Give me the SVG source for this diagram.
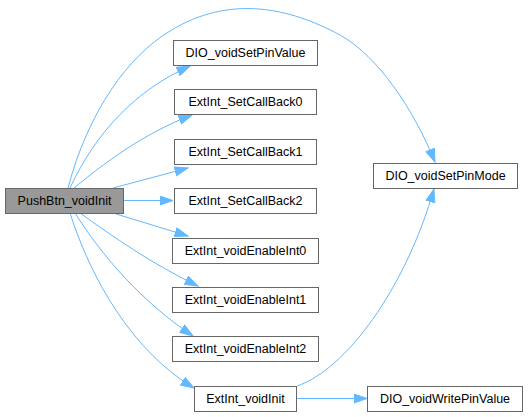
<svg xmlns="http://www.w3.org/2000/svg" width="528" height="417" viewBox="0 0 528 417">
<style>
.n rect{fill:#ffffff;stroke:#666666;stroke-width:1}
.n text{font-family:"Liberation Sans",Arial,sans-serif;font-size:12.5px;fill:#000000;text-anchor:middle}
#n0 rect{fill:#999999}
.e path{fill:none;stroke:#63b8ff;stroke-width:1;marker-end:url(#ah)}
</style>
<defs>
<marker id="ah" markerUnits="userSpaceOnUse" markerWidth="15" markerHeight="12" refX="13.5" refY="5" orient="auto">
<path d="M0.5,0.5 L13.5,5 L0.5,9.5 z" fill="#63b8ff" stroke="#63b8ff" stroke-width="1"/>
</marker>
</defs>
<rect width="528" height="417" fill="#ffffff"/>
<g id="edges" class="e">
<path d="M68,188 C88,112 128,56 170,31 C230,-6 290,8 340,35 C378,56 414,110 435,162"/>
<path d="M70,188 C96,132 136,90 190,66"/>
<path d="M74,188 C102,165 142,134 192,115"/>
<path d="M113,188 L188,168"/>
<path d="M124,200.5 L173,200.5"/>
<path d="M113,213 L188,236"/>
<path d="M80,213 C112,236 152,264 198,286"/>
<path d="M75,213 C102,256 142,302 193,336"/>
<path d="M70,213 C92,282 134,352 194,388"/>
<path d="M297,386 C345,370 405,290 434,189"/>
<path d="M297,398.5 L367,398.5"/>
</g>
<g id="n0" class="n"><rect x="5.5" y="188.5" width="118" height="25"/><text x="64.5" y="205">PushBtn_voidInit</text></g>
<g id="n1" class="n"><rect x="173.5" y="40.5" width="144" height="25"/><text x="245.5" y="57">DIO_voidSetPinValue</text></g>
<g id="n2" class="n"><rect x="174.5" y="89.5" width="142" height="25"/><text x="245.5" y="106">ExtInt_SetCallBack0</text></g>
<g id="n3" class="n"><rect x="174.5" y="139.5" width="142" height="25"/><text x="245.5" y="156">ExtInt_SetCallBack1</text></g>
<g id="n4" class="n"><rect x="174.5" y="188.5" width="142" height="25"/><text x="245.5" y="205">ExtInt_SetCallBack2</text></g>
<g id="n5" class="n"><rect x="172.5" y="238.5" width="146" height="25"/><text x="245.5" y="255">ExtInt_voidEnableInt0</text></g>
<g id="n6" class="n"><rect x="172.5" y="287.5" width="146" height="25"/><text x="245.5" y="304">ExtInt_voidEnableInt1</text></g>
<g id="n7" class="n"><rect x="172.5" y="336.5" width="146" height="25"/><text x="245.5" y="353">ExtInt_voidEnableInt2</text></g>
<g id="n8" class="n"><rect x="194.5" y="386.5" width="102" height="25"/><text x="245.5" y="403">ExtInt_voidInit</text></g>
<g id="n9" class="n"><rect x="373.5" y="163.5" width="144" height="25"/><text x="445.5" y="180">DIO_voidSetPinMode</text></g>
<g id="n10" class="n"><rect x="367.5" y="386.5" width="155" height="25"/><text x="445" y="403">DIO_voidWritePinValue</text></g>
</svg>
